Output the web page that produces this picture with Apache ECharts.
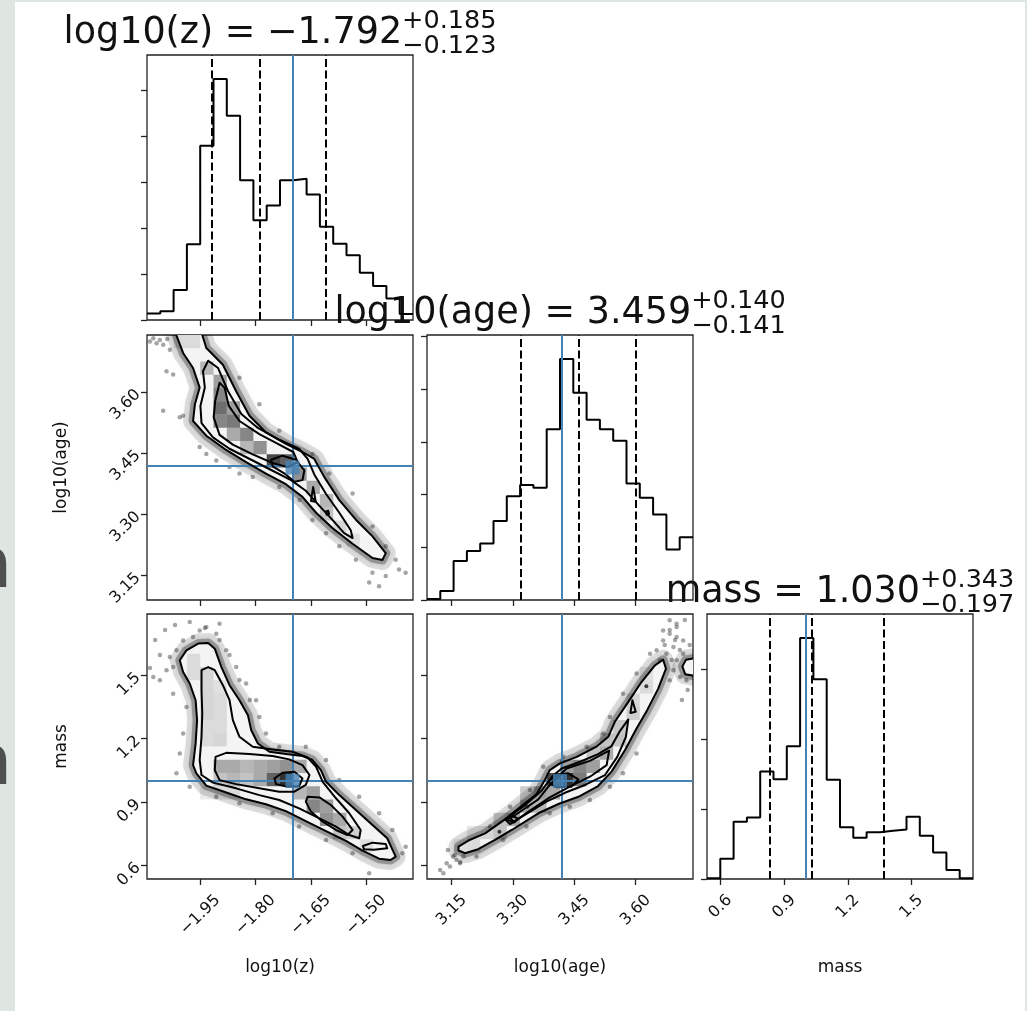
<!DOCTYPE html>
<html>
<head>
<meta charset="utf-8">
<script src="https://cdn.jsdelivr.net/npm/echarts@6/dist/echarts.min.js"></script>
<style>
html, body { margin: 0; padding: 0; background: #dfe6e2; }
#paper { position: absolute; left: 15px; top: 2px; width: 1010px; height: 1009px; background: #fff; }
#chart { position: absolute; left: 0; top: 0; width: 1027px; height: 1011px; }
</style>
</head>
<body>
<div id="paper"></div>
<div id="chart"></div>
<script>
// parameters of the corner plot
var paramNames = ['log10(z)', 'log10(age)', 'mass'];
var paramRanges = [[-2.095, -1.373], [3.09, 3.74], [0.536, 1.79]];
var tickValues = [[-1.95, -1.80, -1.65, -1.50], [3.15, 3.30, 3.45, 3.60], [0.6, 0.9, 1.2, 1.5]];
var tickDecimals = [2, 2, 1];
var truths = [-1.70, 3.415, 1.00];
var quantiles = [[-1.915, -1.792, -1.607], [3.318, 3.459, 3.599], [0.833, 1.030, 1.373]];
var titleValues = ['−1.792', '3.459', '1.030'];
var titlePlus = ['+0.185', '+0.140', '+0.343'];
var titleMinus = ['−0.123', '−0.141', '−0.197'];

// 1d histograms, 20 bins across each range
var histZ = [0.14, 0.19, 0.65, 1.65, 3.79, 5.24, 4.44, 3.04, 2.17, 2.49, 3.04, 3.07, 2.73, 2.03, 1.66, 1.41, 1.03, 0.74, 0.47, 0.13];
var histAge = [0.02, 0.17, 0.74, 0.93, 1.07, 1.50, 1.97, 2.18, 2.13, 3.24, 4.57, 3.93, 3.42, 3.24, 3.02, 2.21, 1.94, 1.62, 0.96, 1.19];
var histMass = [0.01, 0.29, 0.82, 0.88, 1.54, 1.43, 1.90, 3.45, 2.86, 1.42, 0.74, 0.59, 0.67, 0.69, 0.71, 0.89, 0.62, 0.38, 0.13, 0.01];
var histTicks = [[0, 1, 2, 3, 4, 5], [0, 1, 2, 3, 4, 5], [0, 1, 2, 3]];

// log10(z) vs log10(age)
var zAgeOuter = [[-2.024, 3.76], [-1.997, 3.696], [-1.970, 3.659], [-1.952, 3.611], [-1.965, 3.570], [-1.970, 3.529], [-1.934, 3.493], [-1.880, 3.458], [-1.826, 3.428], [-1.772, 3.400], [-1.718, 3.374], [-1.673, 3.343], [-1.636, 3.304], [-1.591, 3.266], [-1.537, 3.228], [-1.483, 3.193], [-1.456, 3.188], [-1.447, 3.205], [-1.483, 3.246], [-1.528, 3.287], [-1.573, 3.335], [-1.614, 3.392], [-1.641, 3.436], [-1.673, 3.453], [-1.718, 3.473], [-1.772, 3.501], [-1.817, 3.542], [-1.853, 3.602], [-1.889, 3.667], [-1.934, 3.708], [-1.952, 3.76]];
var zAgeMid = [[-1.929, 3.677], [-1.902, 3.659], [-1.875, 3.602], [-1.839, 3.546], [-1.794, 3.512], [-1.736, 3.483], [-1.682, 3.461], [-1.659, 3.436], [-1.641, 3.398], [-1.609, 3.350], [-1.573, 3.304], [-1.542, 3.261], [-1.537, 3.242], [-1.560, 3.254], [-1.591, 3.286], [-1.627, 3.321], [-1.664, 3.358], [-1.704, 3.384], [-1.754, 3.407], [-1.812, 3.434], [-1.871, 3.461], [-1.916, 3.489], [-1.947, 3.524], [-1.950, 3.566], [-1.938, 3.611], [-1.943, 3.651]];
var zAgeInner = [[-1.898, 3.623], [-1.884, 3.610], [-1.873, 3.566], [-1.844, 3.529], [-1.790, 3.497], [-1.736, 3.471], [-1.698, 3.453], [-1.686, 3.428], [-1.713, 3.416], [-1.754, 3.426], [-1.808, 3.447], [-1.862, 3.471], [-1.898, 3.495], [-1.914, 3.538], [-1.910, 3.578]];
var zAgeCore = [
  [[-1.758, 3.434], [-1.727, 3.444], [-1.691, 3.434], [-1.668, 3.408], [-1.673, 3.384], [-1.695, 3.380], [-1.718, 3.398], [-1.754, 3.418]],
  [[-1.650, 3.333], [-1.644, 3.367], [-1.637, 3.331]],
  [[-1.609, 3.307], [-1.603, 3.309], [-1.601, 3.301], [-1.607, 3.299]]
];
var zAgeDots = [[-2.087, 3.724], [-2.069, 3.720], [-2.051, 3.716], [-2.033, 3.704], [-2.060, 3.728], [-2.078, 3.732], [-2.040, 3.730], [-2.006, 3.538], [-1.997, 3.542], [-2.051, 3.554], [-2.024, 3.643], [-2.042, 3.651], [-1.907, 3.432], [-1.871, 3.416], [-1.844, 3.400], [-1.808, 3.392], [-1.736, 3.367], [-1.681, 3.335], [-1.646, 3.286], [-1.609, 3.254], [-1.573, 3.222], [-1.528, 3.189], [-1.483, 3.157], [-1.447, 3.149], [-1.411, 3.165], [-1.393, 3.157], [-1.492, 3.133], [-1.465, 3.124], [-1.844, 3.635], [-1.790, 3.570], [-1.736, 3.505], [-1.646, 3.448], [-1.600, 3.400], [-1.537, 3.351], [-1.483, 3.270], [-1.447, 3.222], [-1.420, 3.189], [-1.952, 3.465], [-1.934, 3.448], [-1.889, 3.659]];
var zAgeCells = [[2, 19, 0.1], [3, 19, 0.1], [4, 17, 0.25], [5, 16, 0.35], [5, 15, 0.45], [5, 14, 0.55], [6, 14, 0.35], [5, 13, 0.45], [6, 13, 0.5], [7, 12, 0.45], [8, 11, 0.4], [6, 12, 0.3], [7, 11, 0.25], [9, 10, 0.7], [10, 10, 0.6], [11, 9, 0.4], [12, 8, 0.3], [13, 7, 0.25], [13, 6, 0.2], [14, 5, 0.12], [15, 4, 0.08]];

// log10(z) vs mass
var zMassOuter = [[-2.006, 1.571], [-1.988, 1.618], [-1.956, 1.650], [-1.929, 1.653], [-1.911, 1.626], [-1.893, 1.539], [-1.871, 1.453], [-1.844, 1.382], [-1.821, 1.311], [-1.812, 1.240], [-1.794, 1.177], [-1.763, 1.138], [-1.718, 1.127], [-1.673, 1.118], [-1.646, 1.099], [-1.623, 1.051], [-1.609, 0.996], [-1.573, 0.933], [-1.528, 0.863], [-1.483, 0.792], [-1.443, 0.729], [-1.420, 0.642], [-1.434, 0.626], [-1.465, 0.632], [-1.510, 0.670], [-1.555, 0.716], [-1.609, 0.763], [-1.664, 0.810], [-1.718, 0.857], [-1.772, 0.890], [-1.826, 0.913], [-1.880, 0.945], [-1.934, 0.978], [-1.961, 1.036], [-1.970, 1.075], [-1.963, 1.177], [-1.959, 1.288], [-1.963, 1.382], [-1.979, 1.461], [-1.997, 1.516]];
var zMassMid = [[-1.947, 1.524], [-1.929, 1.539], [-1.911, 1.524], [-1.889, 1.453], [-1.871, 1.382], [-1.862, 1.288], [-1.844, 1.209], [-1.808, 1.162], [-1.754, 1.149], [-1.700, 1.138], [-1.659, 1.111], [-1.636, 1.067], [-1.618, 0.996], [-1.582, 0.918], [-1.546, 0.847], [-1.515, 0.768], [-1.519, 0.729], [-1.546, 0.744], [-1.582, 0.784], [-1.627, 0.823], [-1.682, 0.870], [-1.736, 0.910], [-1.790, 0.933], [-1.853, 0.965], [-1.916, 0.992], [-1.947, 1.028], [-1.952, 1.099], [-1.947, 1.209], [-1.945, 1.319], [-1.947, 1.429]];
var zMassInner = [
  [[-1.909, 1.114], [-1.880, 1.133], [-1.817, 1.127], [-1.754, 1.118], [-1.709, 1.102], [-1.673, 1.075], [-1.654, 1.028], [-1.664, 0.981], [-1.695, 0.949], [-1.736, 0.949], [-1.790, 0.965], [-1.853, 0.985], [-1.898, 1.004], [-1.911, 1.051]],
  [[-1.659, 0.925], [-1.627, 0.922], [-1.596, 0.886], [-1.564, 0.831], [-1.537, 0.768], [-1.551, 0.744], [-1.582, 0.768], [-1.618, 0.807], [-1.650, 0.855], [-1.664, 0.902]]
];
var zMassCore = [
  [[-1.749, 1.012], [-1.727, 1.039], [-1.695, 1.044], [-1.673, 1.012], [-1.682, 0.976], [-1.713, 0.973], [-1.745, 0.985]],
  [[-1.509, 0.692], [-1.483, 0.708], [-1.447, 0.702], [-1.443, 0.681], [-1.479, 0.674], [-1.506, 0.677]]
];
var zMassDots = [[-2.078, 1.492], [-2.060, 1.476], [-2.042, 1.524], [-2.024, 1.539], [-2.033, 1.587], [-2.015, 1.618], [-1.997, 1.665], [-1.970, 1.681], [-1.952, 1.712], [-1.934, 1.728], [-1.898, 1.744], [-1.907, 1.697], [-1.880, 1.618], [-1.853, 1.539], [-1.826, 1.461], [-1.799, 1.382], [-1.790, 1.303], [-1.772, 1.225], [-1.736, 1.162], [-1.664, 1.162], [-1.609, 1.099], [-1.573, 1.004], [-1.519, 0.925], [-1.465, 0.847], [-1.429, 0.768], [-1.393, 0.689], [-1.402, 0.658], [-1.492, 0.563], [-1.537, 0.658], [-1.609, 0.721], [-1.682, 0.784], [-1.754, 0.847], [-1.844, 0.894], [-1.907, 0.925], [-1.979, 0.973], [-2.015, 1.036], [-2.006, 1.130], [-1.997, 1.225], [-1.988, 1.350], [-2.024, 1.413], [-2.073, 1.667], [-2.046, 1.714], [-2.019, 1.738], [-1.979, 1.752], [-1.938, 1.724], [-1.898, 1.667], [-1.871, 1.596], [-2.060, 1.596], [-2.087, 1.534], [-1.844, 1.478], [-1.816, 1.383]];
var zMassCells = [[3, 16, 0.1], [3, 15, 0.1], [4, 15, 0.12], [4, 14, 0.12], [4, 13, 0.12], [4, 12, 0.12], [4, 11, 0.1], [4, 10, 0.1], [5, 14, 0.08], [5, 13, 0.1], [5, 12, 0.1], [5, 11, 0.1], [5, 10, 0.12], [5, 8, 0.3], [6, 8, 0.3], [7, 8, 0.25], [8, 8, 0.3], [9, 8, 0.35], [10, 8, 0.4], [11, 8, 0.3], [5, 7, 0.2], [6, 7, 0.25], [7, 7, 0.2], [8, 7, 0.3], [9, 7, 0.6], [10, 7, 0.8], [11, 6, 0.25], [12, 6, 0.35], [4, 6, 0.08], [5, 6, 0.1], [6, 6, 0.1], [12, 5, 0.45], [13, 5, 0.35], [13, 4, 0.4], [14, 4, 0.3], [14, 3, 0.2], [15, 3, 0.15], [16, 2, 0.08]];

// log10(age) vs mass
var ageMassOuter = [[3.167, 0.689], [3.191, 0.718], [3.232, 0.752], [3.276, 0.812], [3.317, 0.875], [3.358, 0.938], [3.378, 1.004], [3.390, 1.051], [3.415, 1.083], [3.456, 1.114], [3.504, 1.162], [3.533, 1.209], [3.549, 1.280], [3.582, 1.374], [3.614, 1.468], [3.647, 1.547], [3.667, 1.574], [3.674, 1.531], [3.655, 1.437], [3.628, 1.335], [3.602, 1.248], [3.574, 1.146], [3.541, 1.044], [3.508, 0.976], [3.460, 0.925], [3.411, 0.891], [3.362, 0.847], [3.297, 0.768], [3.256, 0.721], [3.215, 0.677], [3.183, 0.658], [3.167, 0.671]];
var ageMassEdge = [[3.75, 1.583], [3.723, 1.574], [3.714, 1.542], [3.721, 1.505], [3.75, 1.495]];
var ageMassMid = [[3.281, 0.818], [3.325, 0.878], [3.370, 0.954], [3.395, 1.020], [3.419, 1.059], [3.464, 1.091], [3.508, 1.127], [3.541, 1.165], [3.560, 1.232], [3.582, 1.291], [3.576, 1.209], [3.555, 1.114], [3.525, 1.028], [3.476, 0.981], [3.427, 0.944], [3.382, 0.902], [3.329, 0.839], [3.293, 0.796]];
var ageMassInner = [[3.293, 0.823], [3.321, 0.859], [3.362, 0.913], [3.390, 0.981], [3.431, 1.059], [3.488, 1.095], [3.535, 1.143], [3.529, 1.075], [3.488, 1.020], [3.439, 0.973], [3.390, 0.922], [3.338, 0.855], [3.303, 0.807]];
var ageMassCore = [
  [[3.386, 0.996], [3.407, 1.028], [3.435, 1.036], [3.460, 1.007], [3.443, 0.973], [3.407, 0.970]],
  [[3.285, 0.818], [3.299, 0.834], [3.313, 0.821], [3.303, 0.803]],
  [[3.587, 1.322], [3.592, 1.382], [3.600, 1.327]]
];
var ageMassSpecks = [[3.626, 1.448], [3.267, 0.760], [3.335, 0.878]];
var ageMassDots = [[3.122, 0.579], [3.138, 0.611], [3.154, 0.642], [3.146, 0.595], [3.162, 0.626], [3.179, 0.642], [3.211, 0.642], [3.130, 0.563], [3.171, 0.611], [3.158, 0.650], [3.171, 0.616], [3.141, 0.673], [3.276, 0.721], [3.333, 0.784], [3.390, 0.847], [3.439, 0.878], [3.488, 0.910], [3.537, 0.973], [3.569, 1.036], [3.602, 1.130], [3.244, 0.784], [3.293, 0.878], [3.342, 0.957], [3.374, 1.067], [3.423, 1.114], [3.480, 1.162], [3.521, 1.225], [3.537, 1.303], [3.569, 1.413], [3.602, 1.508], [3.635, 1.602], [3.651, 1.618], [3.667, 1.665], [3.683, 1.697], [3.700, 1.728], [3.692, 1.634], [3.675, 1.602], [3.700, 1.571], [3.716, 1.602], [3.724, 1.476], [3.708, 1.492], [3.692, 1.524], [3.683, 1.476], [3.700, 1.681], [3.716, 1.665], [3.667, 1.712], [3.683, 1.760], [3.732, 1.539], [3.700, 1.744], [3.683, 1.714], [3.696, 1.667], [3.708, 1.620], [3.720, 1.762], [3.732, 1.643], [3.671, 1.643], [3.688, 1.572], [3.727, 1.430], [3.713, 1.383], [3.659, 1.572]];
var ageMassCells = [[2, 2, 0.08], [3, 2, 0.1], [3, 3, 0.1], [4, 3, 0.12], [5, 3, 0.2], [5, 4, 0.2], [6, 4, 0.3], [7, 5, 0.3], [8, 5, 0.25], [7, 6, 0.2], [8, 6, 0.35], [9, 6, 0.3], [9, 7, 0.7], [10, 7, 0.8], [11, 7, 0.5], [10, 8, 0.35], [11, 8, 0.45], [12, 8, 0.35], [13, 9, 0.3], [12, 9, 0.2], [13, 10, 0.2], [14, 10, 0.2], [14, 11, 0.18], [15, 12, 0.15], [15, 13, 0.12], [16, 14, 0.1], [16, 15, 0.08]];

var blue = '#4682b4';
var ink = '#111';
var font = 'DejaVu Sans';

var colLeft = [147, 427, 707];
var rowTop = [55, 335, 614];
var panelW = 266, panelH = 265;

var hists = [histZ, histAge, histMass];
var pairs = {
  '1,0': { outer: zAgeOuter, extra: [], mid: [zAgeMid], inner: [zAgeInner], core: zAgeCore, dots: zAgeDots, cells: zAgeCells, specks: [] },
  '2,0': { outer: zMassOuter, extra: [], mid: [zMassMid], inner: zMassInner, core: zMassCore, dots: zMassDots, cells: zMassCells, specks: [] },
  '2,1': { outer: ageMassOuter, extra: [ageMassEdge], mid: [ageMassMid], inner: [ageMassInner], core: ageMassCore, dots: ageMassDots, cells: ageMassCells, specks: ageMassSpecks }
};

function fmt(v, d) {
  return v.toFixed(d).replace('-', '\u2212');
}

function maxOf(arr) {
  return Math.max.apply(null, arr);
}

var ctx = document.createElement('canvas').getContext('2d');
function textWidth(s, size) {
  ctx.font = size + 'px "' + font + '"';
  return ctx.measureText(s).width;
}

// polygons (contours, fills) drawn through the axis scales
function ringSeries(g, rings, style, z) {
  return {
    type: 'custom', coordinateSystem: 'cartesian2d', xAxisIndex: g, yAxisIndex: g,
    clip: true, silent: true, z: z,
    data: rings.map(function (r) { return r[0]; }),
    renderItem: function (params, api) {
      var pts = rings[params.dataIndex].map(function (p) { return api.coord(p); });
      return { type: 'polygon', shape: { points: pts }, style: Object.assign({}, style) };
    }
  };
}

// 2d histogram cells, 20x20 bins
function cellSeries(g, cells, xr, yr, z) {
  var dx = (xr[1] - xr[0]) / 20, dy = (yr[1] - yr[0]) / 20;
  return {
    type: 'custom', coordinateSystem: 'cartesian2d', xAxisIndex: g, yAxisIndex: g,
    clip: true, silent: true, z: z,
    data: cells,
    renderItem: function (params, api) {
      var c = api.value(0), r = api.value(1), s = api.value(2);
      var p0 = api.coord([xr[0] + c * dx, yr[0] + r * dy]);
      var p1 = api.coord([xr[0] + (c + 1) * dx, yr[0] + (r + 1) * dy]);
      return {
        type: 'rect',
        shape: { x: p0[0], y: p1[1], width: p1[0] - p0[0], height: p0[1] - p1[1] },
        style: { fill: 'rgba(0,0,0,' + s + ')' }
      };
    }
  };
}

// rotated x labels sit centred under the tick, top edge a fixed pad below the axis
function xLabelMargin(col) {
  var w = Math.max.apply(null, tickValues[col].map(function (v) { return textWidth(fmt(v, tickDecimals[col]), 16); }));
  return 14 + (w + 13) * 0.3536;
}

var panels = [[0, 0], [1, 0], [1, 1], [2, 0], [2, 1], [2, 2]];
var grids = [], xAxes = [], yAxes = [], series = [];

panels.forEach(function (rc, g) {
  var row = rc[0], col = rc[1];
  var isHist = row === col;
  var xr = paramRanges[col];
  var yr = isHist ? [0, 1.1 * maxOf(hists[col])] : paramRanges[row];

  grids.push({
    left: colLeft[col], top: rowTop[row], width: panelW, height: panelH,
    show: true, borderColor: '#222', borderWidth: 1.3, backgroundColor: 'transparent'
  });

  xAxes.push({
    type: 'value', gridIndex: g, min: xr[0], max: xr[1], position: 'bottom',
    axisLine: { show: false }, splitLine: { show: false },
    axisTick: { show: true, inside: false, length: 6, lineStyle: { color: '#222', width: 1.3 }, customValues: tickValues[col] },
    axisLabel: {
      show: row === 2, rotate: 45, margin: xLabelMargin(col), fontSize: 16, fontFamily: font, color: ink,
      align: 'center', verticalAlign: 'middle',
      customValues: tickValues[col],
      formatter: function (v) { return fmt(v, tickDecimals[col]); }
    }
  });

  yAxes.push({
    type: 'value', gridIndex: g, min: yr[0], max: yr[1], position: 'left',
    axisLine: { show: false }, splitLine: { show: false },
    axisTick: { show: true, inside: false, length: 6, lineStyle: { color: '#222', width: 1.3 }, customValues: isHist ? histTicks[col] : tickValues[row] },
    axisLabel: {
      show: !isHist && col === 0, rotate: 45, margin: 9, fontSize: 16, fontFamily: font, color: ink,
      customValues: isHist ? histTicks[col] : tickValues[row],
      formatter: function (v) { return fmt(v, tickDecimals[row]); }
    }
  });

  if (isHist) {
    var h = hists[col];
    var step = (xr[1] - xr[0]) / h.length;
    var pts = h.map(function (v, k) { return [xr[0] + k * step, v]; });
    pts.push([xr[1], h[h.length - 1]]);
    var marks = quantiles[col].map(function (q) {
      return { xAxis: q, lineStyle: { color: '#000', width: 2, type: [8, 3.5] } };
    });
    marks.push({ xAxis: truths[col], lineStyle: { color: blue, width: 2, type: 'solid' } });
    series.push({
      type: 'line', xAxisIndex: g, yAxisIndex: g, step: 'end', symbol: 'none', silent: true,
      data: pts, clip: true, z: 3,
      lineStyle: { color: '#000', width: 2 },
      markLine: { symbol: ['none', 'none'], silent: true, label: { show: false }, data: marks }
    });
  } else {
    var p = pairs[row + ',' + col];
    var all = [p.outer].concat(p.extra);
    // soft cloud of samples hugging the outer contour
    series.push(ringSeries(g, all, { fill: 'none', stroke: 'rgba(0,0,0,0.13)', lineWidth: 20, lineJoin: 'round', shadowBlur: 6, shadowColor: 'rgba(0,0,0,0.2)' }, 1));
    series.push(ringSeries(g, all, { fill: 'none', stroke: 'rgba(0,0,0,0.28)', lineWidth: 9, lineJoin: 'round', shadowBlur: 4, shadowColor: 'rgba(0,0,0,0.3)' }, 1));
    series.push({
      type: 'scatter', xAxisIndex: g, yAxisIndex: g, data: p.dots, symbolSize: 4.5, silent: true, z: 2,
      itemStyle: { color: 'rgba(30,30,30,0.5)' }
    });
    series.push(ringSeries(g, all, { fill: '#f4f4f4', stroke: null }, 3));
    series.push(cellSeries(g, p.cells, xr, yr, 4));
    var lines = all.concat(p.mid, p.inner, p.core);
    series.push(ringSeries(g, lines, { fill: 'none', stroke: '#000', lineWidth: 2, lineJoin: 'round' }, 5));
    if (p.specks.length) {
      series.push({
        type: 'scatter', xAxisIndex: g, yAxisIndex: g, data: p.specks, symbolSize: 4, silent: true, z: 5,
        itemStyle: { color: '#111' }
      });
    }
    series.push({
      type: 'scatter', xAxisIndex: g, yAxisIndex: g, data: [[truths[col], truths[row]]],
      symbol: 'rect', symbolSize: 14, silent: true, z: 7,
      itemStyle: { color: blue },
      markLine: {
        symbol: ['none', 'none'], silent: true, label: { show: false },
        lineStyle: { color: blue, width: 2, type: 'solid' },
        data: [{ xAxis: truths[col] }, { yAxis: truths[row] }]
      }
    });
  }
});

// titles with super/subscript errors, axis names
function txt(x, y, s, size, align, extra) {
  var el = {
    type: 'text', x: x, y: y, silent: true,
    style: {
      text: s, font: size + 'px "' + font + '"', fill: ink,
      align: align, textAlign: align, verticalAlign: 'middle', textVerticalAlign: 'middle'
    }
  };
  return Object.assign(el, extra || {});
}

var graphics = [];
for (var i = 0; i < 3; i++) {
  var cx = colLeft[i] + panelW / 2;
  var base = rowTop[i] - 11;
  var main = paramNames[i] + ' = ' + titleValues[i];
  var w1 = textWidth(main, 36.5);
  var w2 = Math.max(textWidth(titlePlus[i], 25.5), textWidth(titleMinus[i], 25.5));
  var x0 = cx - (w1 + w2) / 2;
  graphics.push(txt(x0, base - 0.3 * 36.5, main, 36.5, 'left'));
  graphics.push(txt(x0 + w1, base - 15 - 0.3 * 25.5, titlePlus[i], 25.5, 'left'));
  graphics.push(txt(x0 + w1, base + 10 - 0.3 * 25.5, titleMinus[i], 25.5, 'left'));
  graphics.push(txt(cx, 968, paramNames[i], 17, 'center'));
}
graphics.push(txt(62, rowTop[1] + panelH / 2, paramNames[1], 17, 'center', { rotation: Math.PI / 2 }));
graphics.push(txt(62, rowTop[2] + panelH / 2, paramNames[2], 17, 'center', { rotation: Math.PI / 2 }));
// bits of the page behind the figure
[590, 787].forEach(function (b) {
  var el = txt(12, b - 0.3 * 70, 'n', 70, 'right');
  el.style.fill = '#4f4f4f';
  graphics.push(el);
});

var chart = echarts.init(document.getElementById('chart'), null, { renderer: 'canvas' });
chart.setOption({
  animation: false,
  backgroundColor: 'transparent',
  textStyle: { fontFamily: font },
  grid: grids,
  xAxis: xAxes,
  yAxis: yAxes,
  series: series,
  graphic: { elements: graphics }
});
</script>
</body>
</html>
